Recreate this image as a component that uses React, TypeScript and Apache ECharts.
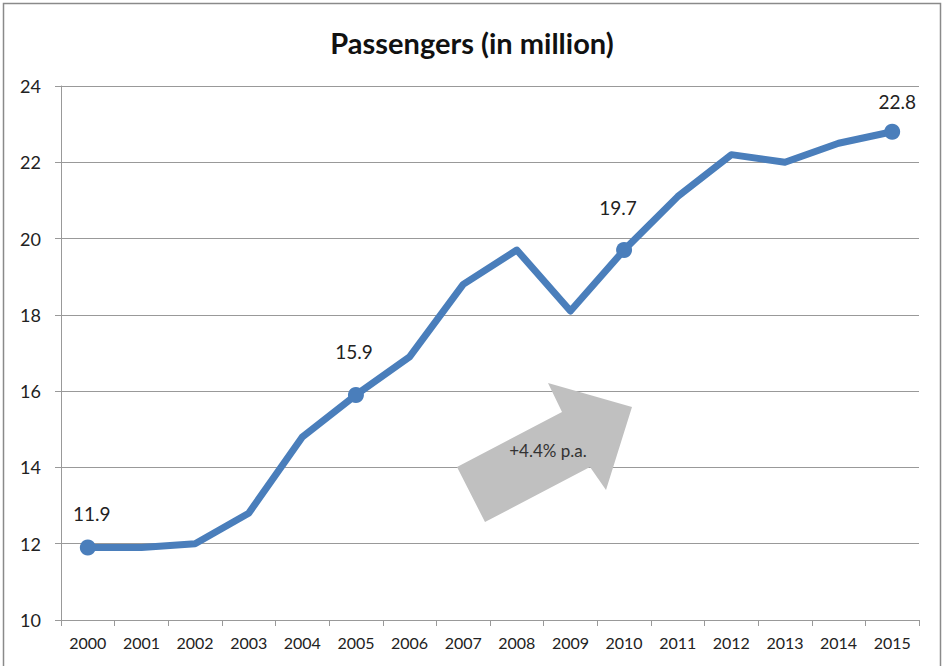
import React, { useEffect, useRef } from "react";
import * as echarts from "echarts";

const years = ["2000","2001","2002","2003","2004","2005","2006","2007","2008","2009","2010","2011","2012","2013","2014","2015"];
const passengers = [11.9, 11.9, 12.0, 12.8, 14.8, 15.9, 16.9, 18.8, 19.7, 18.1, 19.7, 21.1, 22.2, 22.0, 22.5, 22.8];
const labelledYears = ["2000", "2005", "2010", "2015"];
const labelOffsets: Record<string, [number, number]> = {
  "2000": [4, -12],
  "2005": [-2, -21],
  "2010": [-6, -20],
  "2015": [5, -8],
};
const titleText = "Passengers (in million)";
const growthText = "+4.4% p.a.";
const yMin = 10;
const yMax = 24;
const yStep = 2;

const FONT = "Lato, 'Open Sans', sans-serif";

export default function App() {
  const ref = useRef<HTMLDivElement>(null);
  useEffect(() => {
    if (!ref.current) return;
    const chart = echarts.init(ref.current, undefined, { renderer: "svg" });
    const data = passengers.map((v, i) => {
      const y = years[i];
      if (labelledYears.includes(y)) {
        return {
          value: v,
          symbolSize: 16,
          label: {
            show: true,
            position: "top",
            offset: labelOffsets[y],
            formatter: (p: any) => p.value.toFixed(1),
            fontSize: 19,
            color: "#222",
            fontFamily: FONT,
          },
        };
      }
      return { value: v, symbolSize: 0 };
    });
    chart.setOption({
      animation: false,
      backgroundColor: "#fff",
      textStyle: { fontFamily: FONT },
      title: {
        text: titleText,
        left: "center",
        top: 23,
        textStyle: { fontSize: 29, fontWeight: "bold", color: "#111", fontFamily: FONT },
      },
      grid: { left: 61, right: 25, top: 86, bottom: 46, containLabel: false },
      xAxis: {
        type: "category",
        data: years,
        boundaryGap: true,
        axisLine: { show: true, lineStyle: { color: "#999", width: 1 } },
        axisTick: { show: true, length: 6, lineStyle: { color: "#999" } },
        axisLabel: { color: "#222", fontSize: 16, margin: 14, fontFamily: FONT, interval: 0 },
        splitLine: { show: false },
      },
      yAxis: {
        type: "value",
        min: yMin,
        max: yMax,
        interval: yStep,
        axisLine: { show: true, lineStyle: { color: "#999", width: 1 } },
        axisTick: { show: true, length: 6, lineStyle: { color: "#999" } },
        axisLabel: { color: "#222", fontSize: 18, margin: 20, fontFamily: FONT },
        splitLine: { show: true, lineStyle: { color: "#999", width: 1 } },
      },
      series: [
        {
          type: "line",
          data,
          symbol: "circle",
          showSymbol: true,
          smooth: false,
          lineStyle: { color: "#4A7EBB", width: 7, cap: "round", join: "round" },
          itemStyle: { color: "#4A7EBB" },
          z: 3,
        },
      ],
      graphic: [
        {
          type: "rect",
          shape: { x: 3.5, y: 3.5, width: 937, height: 670 },
          style: { fill: "none", stroke: "#8a8a8a", lineWidth: 1.5 },
          silent: true,
          z: 0,
        },
        {
          type: "polygon",
          shape: {
            points: [
              [485, 522],
              [457, 467],
              [562, 412],
              [548, 383],
              [632, 407],
              [606, 490],
              [590, 467],
            ],
          },
          style: { fill: "#c0c0c0", stroke: "none" },
          z: 10,
        },
        {
          type: "text",
          x: 548,
          y: 450,
          style: {
            text: growthText,
            fontSize: 17,
            fill: "#333",
            fontFamily: FONT,
            align: "center",
            verticalAlign: "middle",
          },
          z: 11,
        },
      ],
    });
    return () => chart.dispose();
  }, []);
  return (
    <div
      ref={ref}
      style={{ position: "fixed", left: 0, top: 0, width: 944, height: 666 }}
    />
  );
}
